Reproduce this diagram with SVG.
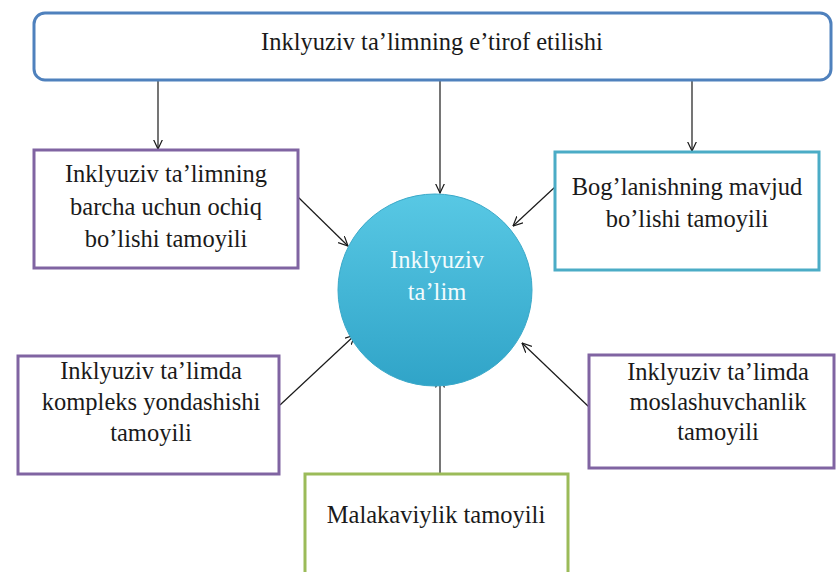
<svg xmlns="http://www.w3.org/2000/svg" width="837" height="572" viewBox="0 0 837 572">
<style>
  .t { font-family: "Liberation Serif", "Times New Roman", serif; font-size: 24.5px; fill: #1a1a1a; text-anchor: middle; }
  .tw { font-family: "Liberation Serif", "Times New Roman", serif; font-size: 24.5px; fill: #f2fbfd; text-anchor: middle; }
  .box { fill: #ffffff; stroke-width: 3; }
  .purple { stroke: #8064a2; }
  .teal { stroke: #4bacc6; }
  .green { stroke: #9bbb59; }
  .conn { stroke: #1a1a1a; stroke-width: 1.2; fill: none; marker-end: url(#arr); }
</style>
<defs>
  <marker id="arr" viewBox="0 0 10 10" refX="9.5" refY="5" markerWidth="10" markerHeight="10" markerUnits="userSpaceOnUse" orient="auto">
    <path d="M0,0.5 L9.5,5 L0,9.5" fill="none" stroke="#1a1a1a" stroke-width="1.2"/>
  </marker>
  <linearGradient id="cg" x1="0" y1="0" x2="0" y2="1">
    <stop offset="0" stop-color="#58c8e4"/>
    <stop offset="1" stop-color="#30a4c8"/>
  </linearGradient>
</defs>
<rect width="837" height="572" fill="#ffffff"/>

<g id="connectors">
  <line class="conn" x1="158" y1="81" x2="158" y2="149"/>
  <line class="conn" x1="440" y1="81" x2="440" y2="193"/>
  <line class="conn" x1="692" y1="81" x2="692" y2="151"/>
  <line class="conn" x1="298" y1="197" x2="348" y2="246"/>
  <line class="conn" x1="555" y1="187" x2="513" y2="226"/>
  <line class="conn" x1="280" y1="405" x2="355" y2="335"/>
  <line class="conn" x1="589" y1="407" x2="522" y2="343"/>
  <line class="conn" x1="440" y1="474" x2="440" y2="378"/>
</g>

<g id="top">
  <rect x="34" y="13" width="797" height="67" rx="11" ry="11" fill="#ffffff" stroke="#4f81bd" stroke-width="3"/>
  <text class="t" x="432" y="50">Inklyuziv ta’limning e’tirof etilishi</text>
</g>

<g id="center">
  <ellipse cx="435" cy="290" rx="97" ry="96" fill="url(#cg)" stroke="#3aa9c9" stroke-width="1"/>
  <text class="tw" x="437" y="268">Inklyuziv</text>
  <text class="tw" x="437" y="300">ta’lim</text>
</g>

<g id="box-ochiq">
  <rect class="box purple" x="34" y="150" width="264" height="118"/>
  <text class="t" x="166" y="182">Inklyuziv ta’limning</text>
  <text class="t" x="166" y="215">barcha uchun ochiq</text>
  <text class="t" x="166" y="247">bo’lishi tamoyili</text>
</g>

<g id="box-boglanish">
  <rect class="box teal" x="555" y="152" width="264" height="118"/>
  <text class="t" x="687" y="195">Bog’lanishning mavjud</text>
  <text class="t" x="687" y="227">bo’lishi tamoyili</text>
</g>

<g id="box-kompleks">
  <rect class="box purple" x="18" y="356" width="261" height="118"/>
  <text class="t" x="151" y="379">Inklyuziv ta’limda</text>
  <text class="t" x="151" y="410">kompleks yondashishi</text>
  <text class="t" x="151" y="441">tamoyili</text>
</g>

<g id="box-moslashuv">
  <rect class="box purple" x="589" y="355" width="245" height="113"/>
  <text class="t" x="718" y="380">Inklyuziv ta’limda</text>
  <text class="t" x="718" y="410">moslashuvchanlik</text>
  <text class="t" x="718" y="440">tamoyili</text>
</g>

<g id="box-malakaviylik">
  <rect class="box green" x="305" y="474" width="263" height="110"/>
  <text class="t" x="436" y="523">Malakaviylik tamoyili</text>
</g>
</svg>
